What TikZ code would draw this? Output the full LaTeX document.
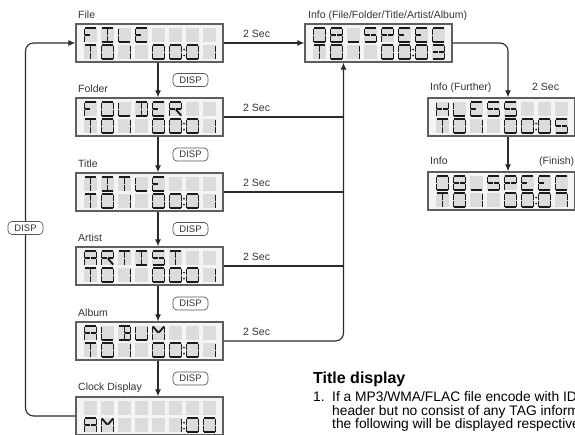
\documentclass[tikz,border=0pt]{standalone}
\usepackage{fontspec}
\setmainfont{Liberation Sans}
\usetikzlibrary{arrows.meta}

\definecolor{ink}{HTML}{2A2A2A}
\definecolor{lcdframe}{HTML}{5E5E5E}
\definecolor{lcdbg}{HTML}{F4F4F4}
\definecolor{ghost}{HTML}{DCDCDC}
\definecolor{segcol}{HTML}{1A1A1A}
\definecolor{txt}{HTML}{333333}

% 14-segment geometry (cell 12 x 14, y downward)
\def\defseg#1#2{\expandafter\def\csname seg-#1\endcsname{#2}}
\defseg{a}{(0,0)--(12,0)}
\defseg{b}{(12,0)--(12,7)}
\defseg{c}{(12,7)--(12,14)}
\defseg{d}{(0,14)--(12,14)}
\defseg{e}{(0,7)--(0,14)}
\defseg{f}{(0,0)--(0,7)}
\defseg{g}{(0,7)--(6,7)}
\defseg{G}{(6,7)--(12,7)}
\defseg{h}{(0,0)--(6,7)}
\defseg{i}{(6,0)--(6,7)}
\defseg{j}{(12,0)--(6,7)}
\defseg{k}{(0,14)--(6,7)}
\defseg{l}{(6,7)--(6,14)}
\defseg{m}{(6,7)--(12,14)}
\defseg{z}{(0,0)}

\def\defch#1#2{\expandafter\def\csname ch-#1\endcsname{#2}}
\defch{A}{a,b,c,e,f,g,G}
\defch{B}{a,b,c,d,i,l,G}
\defch{C}{a,f,e,d}
\defch{D}{a,b,c,d,i,l}
\defch{E}{a,f,e,d,g}
\defch{F}{a,f,e,g}
\defch{H}{f,e,b,c,g,G}
\defch{I}{a,d,i,l}
\defch{L}{f,e,d}
\defch{M}{f,e,b,c,h,j}
\defch{O}{a,b,c,d,e,f}
\defch{P}{a,b,f,e,g,G}
\defch{R}{a,b,f,e,g,G,m}
\defch{S}{a,f,g,G,c,d}
\defch{T}{a,i,l}
\defch{U}{f,e,d,b,c}
\defch{0}{a,b,c,d,e,f}
\defch{1}{b,c}
\defch{3}{a,b,c,d,g,G}
\defch{5}{a,f,g,G,c,d}
\defch{7}{a,b,c}
\defch{8}{a,b,c,d,e,f,g,G}
\defch{Q}{d}
\defch{Z}{z}

\tikzset{
  segline/.style={draw=segcol, line width=1.8pt, shorten <=0.5pt, shorten >=0.5pt},
  lcdbox/.style={rectangle, draw=lcdframe, fill=lcdbg, line width=1.3pt,
    minimum width=147pt, minimum height=38pt, inner sep=0pt},
  conn/.style={draw=ink, line width=1.1pt},
  arr/.style={conn, -{Latex[length=7pt,width=6pt]}},
  disp/.style={rectangle, rounded corners=4pt, draw=ink!80, line width=0.7pt, fill=white,
    minimum width=35pt, minimum height=13pt, inner sep=0pt, text=txt,
    font=\fontsize{9.5}{10}\selectfont},
  lbl/.style={anchor=base west, inner sep=0pt, text=txt, font=\fontsize{10.5}{12}\selectfont},
  body/.style={anchor=base west, inner sep=0pt, text=black, font=\fontsize{13.8}{14}\selectfont},
}

\newcommand\lcdrow[3]{%
  \foreach \c [count=\n from 0] in {#3} {%
    \edef\seglist{\csname ch-\c\endcsname}%
    \begin{scope}[shift={({#1+8.5+\n*17},{#2})}]
      \foreach \s in \seglist {%
        \edef\tmpdraw{\noexpand\draw[segline] \csname seg-\s\endcsname;}\tmpdraw}
    \end{scope}
  }}

\newcommand\lcd[5]{%
  \node[lcdbox] (#1) at ({#2+73.5},{#3+19}) {};
  \foreach \n in {0,...,7} {
    \foreach \r in {0,1} {
      \fill[ghost] ({#2+8+\n*17},{#3+4+\r*17}) rectangle ++(13,14);
    }
  }
  \lcdrow{#2}{#3+4}{#4}
  \lcdrow{#2}{#3+21}{#5}
}

\newcommand\lcdcolon[2]{%
  \fill[segcol] ({#1+108},{#2+25.5}) circle (1);
  \fill[segcol] ({#1+108},{#2+31.5}) circle (1);
}

\begin{document}
\begin{tikzpicture}[x=1pt,y=-1pt]
\useasboundingbox (0,0) rectangle (575,434);
\clip (0,0) rectangle (575,434);

% left column
\lcd{file}{76}{24}{F,I,L,E}{T,0,1,Z,0,0,0,1}
\lcdcolon{76}{24}
\lcd{folder}{76}{98}{F,O,L,D,E,R}{T,0,1,Z,0,0,0,1}
\lcdcolon{76}{98}
\lcd{title}{76}{173}{T,I,T,L,E}{T,0,1,Z,0,0,0,1}
\lcdcolon{76}{173}
\lcd{artist}{76}{247}{A,R,T,I,S,T}{T,0,1,Z,0,0,0,1}
\lcdcolon{76}{247}
\lcd{album}{76}{322}{A,L,B,U,M}{T,0,1,Z,0,0,0,1}
\lcdcolon{76}{322}
\lcd{clock}{76}{397}{Z}{A,M,Z,Z,Z,1,0,0}
\lcdcolon{76}{397}

% right displays
\lcd{info}{305}{24}{0,8,Q,S,P,E,E,C}{T,0,1,Z,0,0,0,3}
\lcdcolon{305}{24}
\lcd{further}{428}{98}{H,L,E,S,S}{T,0,1,Z,0,0,0,5}
\lcdcolon{428}{98}
\lcd{finish}{428}{172}{0,8,Q,S,P,E,E,C}{T,0,1,Z,0,0,0,7}
\lcdcolon{428}{172}

% labels
\node[lbl] (lfile) at (78,18) {File};
\node[lbl] (lfolder) at (78,92.5) {Folder};
\node[lbl] (ltitle) at (78,167) {Title};
\node[lbl] (lartist) at (78,241.5) {Artist};
\node[lbl] (lalbum) at (78,316) {Album};
\node[lbl] (lclock) at (78,390.5) {Clock Display};
\node[lbl] (linfo) at (308,18) {Info (File/Folder/Title/Artist/Album)};
\node[lbl] (lfurther) at (430,90) {Info (Further)};
\node[lbl] (lfurthersec) at (532,90) {2 Sec};
\node[lbl] (lfinish) at (430,164) {Info};
\node[lbl] (lfinishtag) at (539,164) {(Finish)};

\node[lbl] (s1) at (243,37.5) {2 Sec};
\node[lbl] (s2) at (243,111.5) {2 Sec};
\node[lbl] (s3) at (243,186.5) {2 Sec};
\node[lbl] (s4) at (243,260.5) {2 Sec};
\node[lbl] (s5) at (243,335.5) {2 Sec};

% down arrows with DISP
\draw[arr] ([xshift=8.5pt]file.south) -- ([xshift=8.5pt]folder.north);
\draw[arr] ([xshift=8.5pt]folder.south) -- ([xshift=8.5pt]title.north);
\draw[arr] ([xshift=8.5pt]title.south) -- ([xshift=8.5pt]artist.north);
\draw[arr] ([xshift=8.5pt]artist.south) -- ([xshift=8.5pt]album.north);
\draw[arr] ([xshift=8.5pt]album.south) -- ([xshift=8.5pt]clock.north);
\node[disp] (d1) at (190.5,80) {DISP};
\node[disp] (d2) at (190.5,154.5) {DISP};
\node[disp] (d3) at (190.5,229) {DISP};
\node[disp] (d4) at (190.5,303.5) {DISP};
\node[disp] (d5) at (190.5,378.5) {DISP};

% loop back
\coordinate (looptop) at (25.5,43);
\draw[arr, rounded corners=8pt] (clock.west) -| (looptop) -- (file.west);
\node[disp] (dl) at (25.5,228) {DISP};

% 2 sec connectors
\draw[arr] (file.east) -- (info.west);
\coordinate (bus) at ([xshift=-35pt]info.south);
\draw[conn] (folder.east) -- (folder.east -| bus);
\draw[conn] (title.east) -- (title.east -| bus);
\draw[conn] (artist.east) -- (artist.east -| bus);
\draw[arr, rounded corners=8pt] (album.east) -| (bus);

\draw[arr, rounded corners=8pt] (info.east) -| ([xshift=6.5pt]further.north);
\draw[arr] ([xshift=6.5pt]further.south) -- ([xshift=6.5pt]finish.north);

% text block
\node[anchor=base west, inner sep=0pt, font=\fontsize{16}{18}\bfseries\selectfont] (tdisp) at (313,383.5) {Title display};
\node[body] (b1n) at (313,401.5) {1.};
\node[body] (b1) at (332,401.5) {If a MP3/WMA/FLAC file encode with ID3};
\node[body] (b2) at (332,415) {header but no consist of any TAG information,};
\node[body] (b3) at (332,428.5) {the following will be displayed respectively};
\end{tikzpicture}
\end{document}
